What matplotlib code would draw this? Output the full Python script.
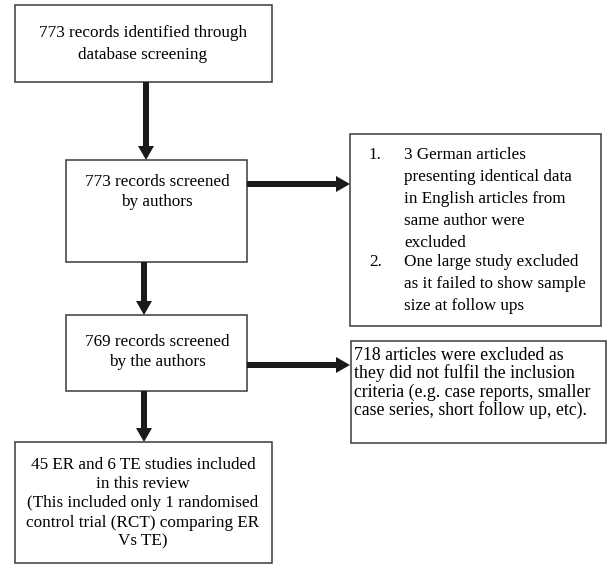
import matplotlib.pyplot as plt
from matplotlib.patches import Rectangle, FancyArrow

plt.rcParams['font.family'] = ['Liberation Serif', 'DejaVu Serif']

# box texts (one list per box, one string per line)
box1_lines = ["773 records identified through", "database screening"]
box2_lines = ["773 records screened", "by authors"]
box3_items = [["3 German articles", "presenting identical data", "in English articles from",
               "same author were", "excluded"],
              ["One large study excluded", "as it failed to show sample", "size at follow ups"]]
box4_lines = ["769 records screened", "by the authors"]
box5_lines = ["718 articles were excluded as", "they did not fulfil the inclusion",
              "criteria (e.g. case reports, smaller", "case series, short follow up, etc)."]
box6_lines = ["45 ER and 6 TE studies included", "in this review",
              "(This included only 1 randomised", "control trial (RCT) comparing ER",
              "Vs TE)"]

W, H = 608, 565
fig = plt.figure(figsize=(W / 100, H / 100), dpi=100)
ax = fig.add_axes([0, 0, 1, 1])
ax.set_xlim(0, W)
ax.set_ylim(H, 0)
ax.axis('off')

fs = 12.3
edge = '#3a3a3a'
dark = '#1a1a1a'


def box(x0, y0, x1, y1):
    ax.add_patch(Rectangle((x0, y0), x1 - x0, y1 - y0, fill=False, ec=edge, lw=1.1))


def centered(lines, xc, y0, step):
    for i, s in enumerate(lines):
        ax.text(xc, y0 + i * step, s, ha='center', va='center', fontsize=fs)


def arrow(x0, y0, x1, y1):
    ax.add_patch(FancyArrow(x0, y0, x1 - x0, y1 - y0, width=6, head_width=16,
                            head_length=14, length_includes_head=True,
                            fc=dark, ec=dark, lw=0))


# box 1
box(15, 5, 272, 82)
centered(box1_lines, 143, 33, 22)
arrow(146, 82, 146, 160)

# box 2
box(66, 160, 247, 262)
centered(box2_lines, 157, 182, 20)
arrow(247, 184, 350, 184)
arrow(144, 262, 144, 315)

# box 3
box(350, 134, 601, 326)
y = 155
for k, item in enumerate(box3_items):
    ax.text(369, y, f"{k + 1}.", ha='left', va='center', fontsize=fs)
    for s in item:
        ax.text(404, y, s, ha='left', va='center', fontsize=fs)
        y += 22
    y -= 3

# box 4
box(66, 315, 247, 391)
centered(box4_lines, 157, 342, 20)
arrow(247, 365, 350, 365)
arrow(144, 391, 144, 442)

# box 5
box(351, 341, 606, 443)
for i, s in enumerate(box5_lines):
    ax.text(354, 355 + i * 18.5, s, ha='left', va='center', fontsize=12.8)

# box 6
box(15, 442, 272, 563)
centered(box6_lines, 143, 465, 19.2)

fig.savefig('out.png', dpi=100)
